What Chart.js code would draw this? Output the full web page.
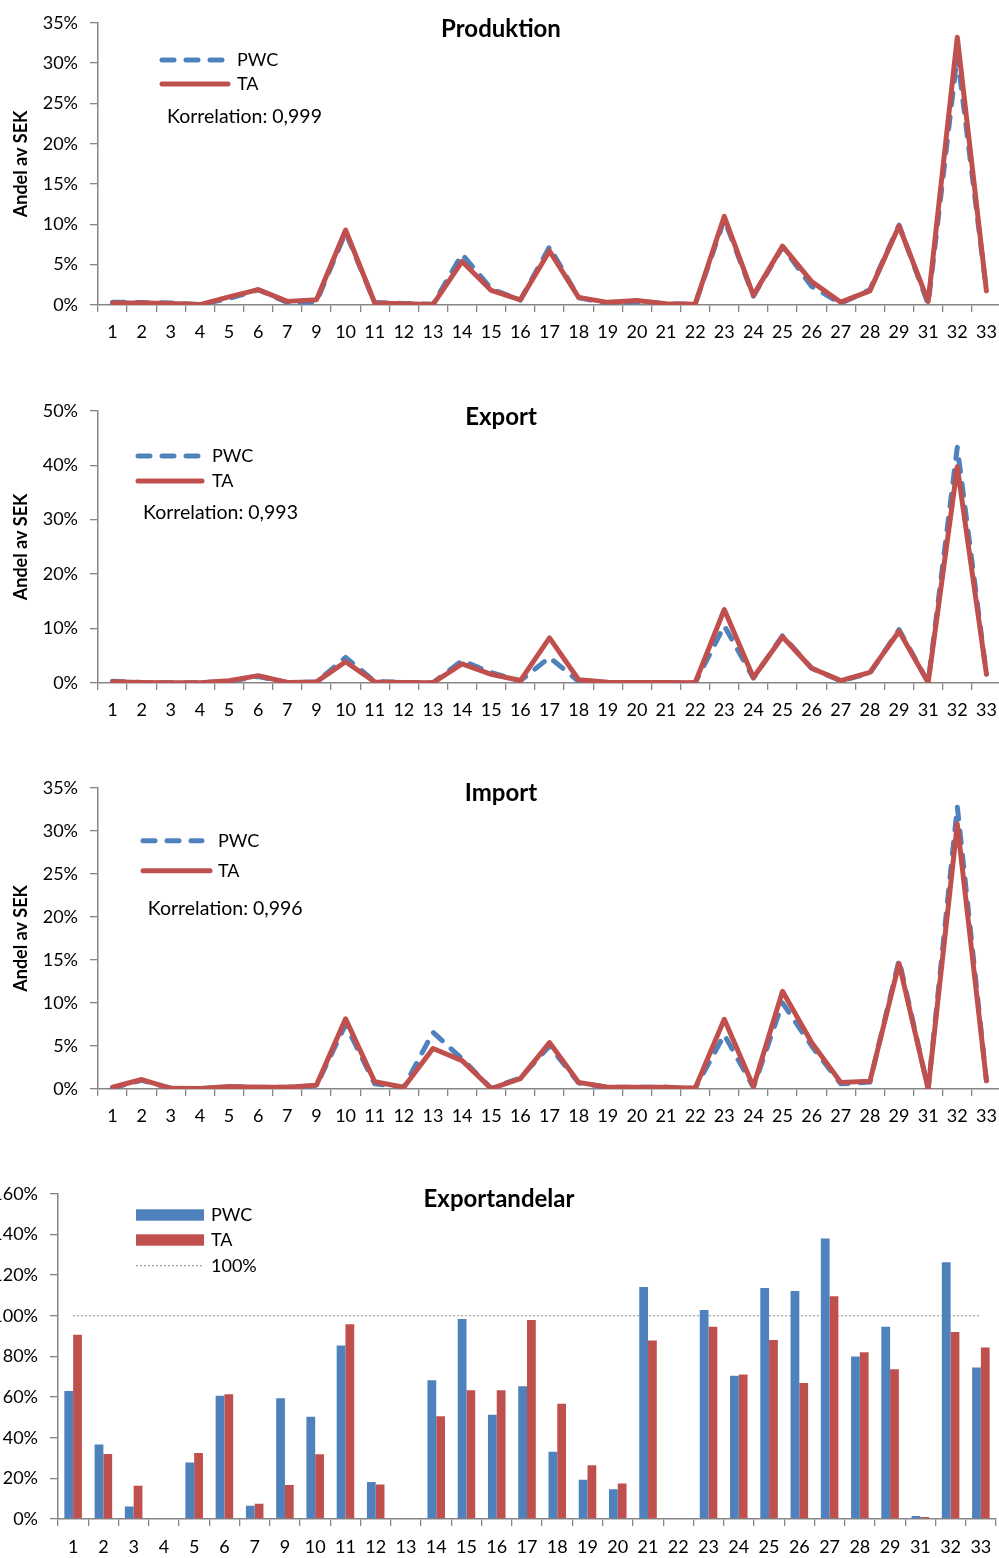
<!DOCTYPE html>
<html>
<head>
<meta charset="utf-8">
<script src="https://cdn.jsdelivr.net/npm/chart.js@4"></script>
<style>
  html, body { margin: 0; padding: 0; background: #fff; }
  body { width: 999px; height: 1558px; position: relative; overflow: hidden; }
  canvas { position: absolute; left: 0; }
</style>
</head>
<body>
<canvas id="prod" width="1001" height="350" style="top:0px"></canvas>
<canvas id="exp" width="1001" height="340" style="top:388px"></canvas>
<canvas id="imp" width="1001" height="369" style="top:765px"></canvas>
<canvas id="andel" width="999" height="387" style="top:1171px"></canvas>
<script>
const categories = ["1", "2", "3", "4", "5", "6", "7", "9", "10", "11", "12", "13", "14", "15", "16",
    "17", "18", "19", "20", "21", "22", "23", "24", "25", "26", "27", "28", "29", "31", "32", "33"];

// Produktion, andel av SEK (%)
const prodPWC = [0.35, 0.3, 0.25, 0.05, 0.8, 1.9, 0.3, 0.4, 9.0, 0.3, 0.2, 0.1, 6.3, 2.0, 0.6,
    7.2, 0.9, 0.2, 0.4, 0.15, 0.1, 10.6, 1.1, 7.2, 2.3, 0.2, 1.9, 9.9, 0.1, 31.0, 1.8];
const prodTA = [0.25, 0.25, 0.2, 0.05, 1.0, 1.9, 0.45, 0.65, 9.3, 0.25, 0.15, 0.05, 5.4, 1.8, 0.65,
    6.7, 0.95, 0.33, 0.55, 0.15, 0.08, 11.0, 1.2, 7.3, 2.9, 0.35, 1.75, 9.8, 0.45, 33.2, 1.75];

// Export
const expPWC = [0.3, 0.1, 0.05, 0.05, 0.3, 1.2, 0.1, 0.2, 4.7, 0.3, 0.1, 0.05, 4.1, 1.9, 0.4,
    4.7, 0.3, 0.1, 0.1, 0.1, 0.05, 10.5, 0.9, 8.7, 2.7, 0.4, 1.8, 9.8, 0.1, 43.3, 1.6];
const expTA = [0.25, 0.1, 0.05, 0.05, 0.4, 1.35, 0.1, 0.2, 3.9, 0.2, 0.1, 0.05, 3.5, 1.6, 0.45,
    8.3, 0.6, 0.12, 0.1, 0.1, 0.05, 13.5, 1.0, 8.5, 2.7, 0.45, 1.95, 9.5, 0.1, 39.7, 1.65];

// Import
const impPWC = [0.15, 1.0, 0.08, 0.05, 0.25, 0.2, 0.2, 0.4, 7.5, 0.6, 0.2, 6.6, 3.5, 0.05, 1.3,
    5.0, 0.7, 0.2, 0.2, 0.2, 0.08, 6.3, 0.2, 10.0, 5.0, 0.6, 0.8, 15.0, 0.0, 32.8, 0.95];
const impTA = [0.2, 1.1, 0.08, 0.05, 0.3, 0.2, 0.2, 0.45, 8.15, 0.85, 0.2, 4.7, 3.3, 0.05, 1.2,
    5.4, 0.77, 0.2, 0.2, 0.2, 0.08, 8.1, 0.3, 11.35, 5.4, 0.77, 0.9, 14.6, 0.0, 30.8, 0.95];

// Exportandelar
const andelPWC = [63.0, 36.7, 6.2, 0, 27.8, 60.6, 6.5, 59.4, 50.3, 85.4, 18.2, 0, 68.3, 98.4, 51.3,
    65.3, 33.1, 19.3, 14.6, 114.1, 0, 102.8, 70.5, 113.6, 112.2, 138.0, 80.0, 94.6, 1.5, 126.3, 74.5];
const andelTA = [90.6, 32.0, 16.4, 0, 32.5, 61.4, 7.5, 16.7, 31.8, 95.8, 17.0, 0, 50.6, 63.3, 63.3,
    97.9, 56.7, 26.5, 17.5, 87.8, 0, 94.6, 71.1, 88.1, 66.9, 109.6, 82.0, 73.7, 1.0, 92.0, 84.4];
const andelRef = [100, 100, 100, 100, 100, 100, 100, 100, 100, 100, 100, 100, 100, 100, 100, 100,
    100, 100, 100, 100, 100, 100, 100, 100, 100, 100, 100, 100, 100, 100, 100];

const BLUE = "#4F81BD";
const RED = "#C0504D";
const AXIS = "#868686";
const FONT = "Lato, 'Open Sans', sans-serif";

Chart.defaults.font.family = FONT;
Chart.defaults.color = "#000";

// title, legend and correlation note drawn inside the plot
function makeOverlay(spec) {
    return {
        id: "overlay",
        afterDraw(chart) {
            const c = chart.ctx;
            c.save();
            c.fillStyle = "#000";
            c.textBaseline = "middle";
            c.textAlign = "center";
            c.font = "bold 24px " + FONT;
            c.fillText(spec.title, spec.titleX, spec.titleY);

            c.textAlign = "left";
            c.font = "18px " + FONT;
            spec.items.forEach(it => {
                c.save();
                if (it.kind === "box") {
                    c.fillStyle = it.color;
                    c.fillRect(it.x1, it.y - 5.7, it.x2 - it.x1, 11.4);
                } else {
                    c.strokeStyle = it.color;
                    c.lineWidth = it.width;
                    c.lineCap = it.kind === "dotted" ? "butt" : "round";
                    c.setLineDash(it.dash || []);
                    c.beginPath();
                    c.moveTo(it.x1, it.y);
                    c.lineTo(it.x2, it.y);
                    c.stroke();
                }
                c.restore();
                c.fillText(it.text, it.tx, it.y);
            });
            if (spec.note) {
                c.font = "19.5px " + FONT;
                c.fillText(spec.note.text, spec.note.x, spec.note.y);
            }
            c.restore();
        }
    };
}

function xScale(height, pad) {
    return {
        offset: true,
        grid: { offset: true, drawOnChartArea: false, drawTicks: true, tickLength: 7, color: AXIS, lineWidth: 1.3 },
        border: { color: AXIS, width: 1.5 },
        ticks: { autoSkip: false, maxRotation: 0, minRotation: 0, padding: pad, font: { size: 18 } },
        afterFit: s => {
            s.height = height;
            s.paddingLeft = 0;
            s.paddingRight = 0;
        }
    };
}

function yScale(max, step, width, withTitle) {
    return {
        min: 0,
        max: max,
        ticks: { stepSize: step, padding: 12, font: { size: 18 }, callback: v => v + "%" },
        grid: { drawOnChartArea: false, tickLength: 8, color: AXIS, lineWidth: 1.3 },
        border: { color: AXIS, width: 1.5 },
        title: {
            display: withTitle,
            text: "Andel av SEK",
            font: { size: 18, weight: "bold" },
            padding: { top: 10, bottom: 0 }
        },
        afterFit: s => { s.width = width; }
    };
}

// the three line charts run a little past the right edge of the page, as in the original
function lineChart(id, pwc, ta, max, step, spec) {
    return new Chart(document.getElementById(id), {
        type: "line",
        data: {
            labels: categories,
            datasets: [
                {
                    label: "PWC", data: pwc, borderColor: BLUE, borderWidth: 5,
                    borderDash: [12, 12], borderCapStyle: "round", borderJoinStyle: "round",
                    pointRadius: 0, tension: 0, order: 2
                },
                {
                    label: "TA", data: ta, borderColor: RED, borderWidth: 5,
                    borderCapStyle: "round", borderJoinStyle: "round",
                    pointRadius: 0, tension: 0, order: 1
                }
            ]
        },
        options: {
            responsive: false,
            animation: false,
            layout: { padding: { top: 20, right: 0, left: 0, bottom: 0 } },
            plugins: { legend: { display: false }, tooltip: { enabled: false } },
            scales: { x: xScale(45, 9), y: yScale(max, step, 98, true) }
        },
        plugins: [makeOverlay(spec)]
    });
}

function lineLegend(x1, y1, y2, x2a, x2b, tx) {
    return [
        { kind: "dash", color: BLUE, width: 5, dash: [12, 12], x1: x1, x2: x2a, y: y1, text: "PWC", tx: tx },
        { kind: "solid", color: RED, width: 5, x1: x1, x2: x2b, y: y2, text: "TA", tx: tx }
    ];
}

lineChart("prod", prodPWC, prodTA, 35, 5, {
    title: "Produktion", titleX: 501, titleY: 29,
    items: lineLegend(162, 60, 84, 226, 228, 237),
    note: { text: "Korrelation: 0,999", x: 167, y: 117 }
});

lineChart("exp", expPWC, expTA, 50, 10, {
    title: "Export", titleX: 501, titleY: 29,
    items: lineLegend(138, 68, 93, 198, 202, 212),
    note: { text: "Korrelation: 0,993", x: 143, y: 125 }
});

lineChart("imp", impPWC, impTA, 35, 5, {
    title: "Import", titleX: 501, titleY: 28,
    items: lineLegend(143, 75.7, 105.7, 202, 210, 218),
    note: { text: "Korrelation: 0,996", x: 147.7, y: 143.3 }
});

new Chart(document.getElementById("andel"), {
    type: "bar",
    data: {
        labels: categories,
        datasets: [
            { label: "PWC", data: andelPWC, backgroundColor: BLUE, categoryPercentage: 0.58, barPercentage: 1, order: 1 },
            { label: "TA", data: andelTA, backgroundColor: RED, categoryPercentage: 0.58, barPercentage: 1, order: 1 },
            {
                type: "line", label: "100%", data: andelRef, borderColor: "#8C8C8C", borderWidth: 1,
                borderDash: [2, 2], pointRadius: 0, order: 3
            }
        ]
    },
    options: {
        responsive: false,
        animation: false,
        layout: { padding: { top: 20, right: 3, left: 0, bottom: 0 } },
        plugins: { legend: { display: false }, tooltip: { enabled: false } },
        scales: { x: xScale(39, 10), y: yScale(160, 20, 58, false) }
    },
    plugins: [makeOverlay({
        title: "Exportandelar", titleX: 499, titleY: 28,
        items: [
            { kind: "box", color: BLUE, x1: 136, x2: 204, y: 44, text: "PWC", tx: 211 },
            { kind: "box", color: RED, x1: 136, x2: 204, y: 69, text: "TA", tx: 211 },
            { kind: "dotted", color: "#8C8C8C", width: 1, dash: [2, 2], x1: 136, x2: 204, y: 94.7, text: "100%", tx: 211 }
        ]
    })]
});
</script>
</body>
</html>
